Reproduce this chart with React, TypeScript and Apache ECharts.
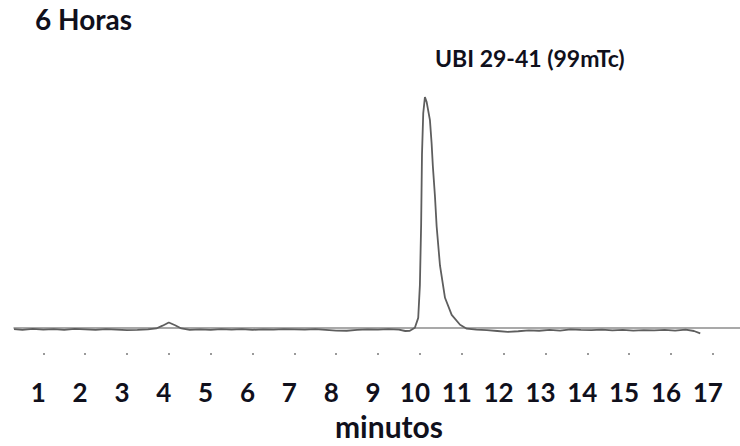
import React, { useEffect, useRef } from "react";
import * as echarts from "echarts";

// Radio-chromatogram trace: retention time (minutes) vs detector signal
const minutes = [
  0.3, 0.5, 0.75, 1.0, 1.25, 1.5, 1.75, 2.0, 2.25, 2.5, 2.75, 3.0, 3.25, 3.5,
  3.7, 3.85, 4.0, 4.15, 4.3, 4.5, 4.75, 5.0, 5.25, 5.5, 5.75, 6.0, 6.25, 6.5,
  6.75, 7.0, 7.25, 7.5, 7.75, 8.0, 8.25, 8.5, 8.75, 9.0, 9.25, 9.5, 9.65, 9.76,
  9.88, 9.96, 10.0, 10.03, 10.05, 10.08, 10.12, 10.16, 10.2, 10.24, 10.28,
  10.31, 10.36, 10.4, 10.48, 10.6, 10.76, 10.96, 11.12, 11.35, 11.6, 11.85,
  12.1, 12.35, 12.6, 12.85, 13.1, 13.35, 13.6, 13.85, 14.1, 14.35, 14.6, 14.85,
  15.1, 15.35, 15.6, 15.85, 16.1, 16.35, 16.55, 16.7,
];

const signal = [
  -0.6, -0.9, -0.5, -0.8, -0.6, -0.9, -0.5, -0.7, -0.9, -0.6, -0.8, -1.0, -0.9,
  -0.7, -0.3, 0.9, 2.3, 1.1, -0.3, -0.9, -0.7, -0.9, -0.6, -0.8, -0.6, -0.9,
  -0.7, -0.8, -0.6, -0.7, -0.8, -0.6, -0.9, -1.2, -1.3, -0.9, -0.7, -0.8, -0.6,
  -0.8, -1.4, -1.3, 0, 4.3, 18.5, 45, 75, 93, 100, 98, 94, 90, 80, 70, 57, 44,
  27, 13, 5.6, 1.3, -0.4, -0.8, -1.0, -1.4, -1.8, -1.5, -1.1, -1.3, -0.9, -1.2,
  -0.7, -0.9, -1.0, -0.8, -1.1, -0.9, -1.2, -1.0, -1.1, -0.9, -1.2, -0.8, -1.4,
  -2.4,
];

const tickMinutes = [1, 2, 3, 4, 5, 6, 7, 8, 9, 10, 11, 12, 13, 14, 15, 16, 17];

const titleText = "6 Horas";
const peakName = "UBI 29-41 (99mTc)";
const axisName = "minutos";

const FONT = "Lato, 'Open Sans', sans-serif";
const INK = "#10101c";

export default function App() {
  const ref = useRef<HTMLDivElement>(null);

  useEffect(() => {
    document.body.style.margin = "0";
    if (!ref.current) return;
    const chart = echarts.init(ref.current, undefined, { renderer: "svg" });
    const data = minutes.map((m, i) => [m, signal[i]]);

    chart.setOption({
      animation: false,
      backgroundColor: "#ffffff",
      grid: { left: 14, right: 0, top: 74, bottom: 106 },
      xAxis: [
        {
          type: "value",
          min: 0.3,
          max: 17.65,
          axisLine: {
            show: true,
            onZero: true,
            lineStyle: { color: "#8c8c8c", width: 1.5 },
          },
          axisTick: { show: false },
          axisLabel: { show: false },
          splitLine: { show: false },
        },
        {
          type: "value",
          min: 0.3,
          max: 17.65,
          position: "bottom",
          offset: 16,
          axisLine: { show: false, onZero: false },
          axisTick: {
            show: true,
            length: 2,
            customValues: tickMinutes,
            lineStyle: { color: "#9a9a9a", width: 2 },
          },
          axisLabel: {
            customValues: tickMinutes,
            margin: 26,
            fontFamily: FONT,
            fontWeight: "bold",
            fontSize: 26,
            color: INK,
            padding: [0, 10, 0, 0],
          },
          splitLine: { show: false },
          name: axisName,
          nameLocation: "middle",
          nameGap: 58,
          nameTextStyle: {
            fontFamily: FONT,
            fontWeight: "bold",
            fontSize: 30,
            color: INK,
            padding: [0, 0, 0, 24],
          },
        },
      ],
      yAxis: { type: "value", min: -4, max: 110, show: false },
      series: [
        {
          type: "line",
          xAxisIndex: 0,
          data,
          symbol: "none",
          lineStyle: { color: "#5e5e5e", width: 1.8 },
        },
      ],
      graphic: [
        {
          type: "text",
          left: 35,
          top: 5,
          style: {
            text: titleText,
            font: `bold 28px ${FONT}`,
            fill: INK,
          },
        },
        {
          type: "text",
          left: 435,
          top: 46,
          style: {
            text: peakName,
            font: `bold 23px ${FONT}`,
            fill: INK,
          },
        },
      ],
    });

    return () => chart.dispose();
  }, []);

  return <div ref={ref} style={{ width: 740, height: 446 }} />;
}
